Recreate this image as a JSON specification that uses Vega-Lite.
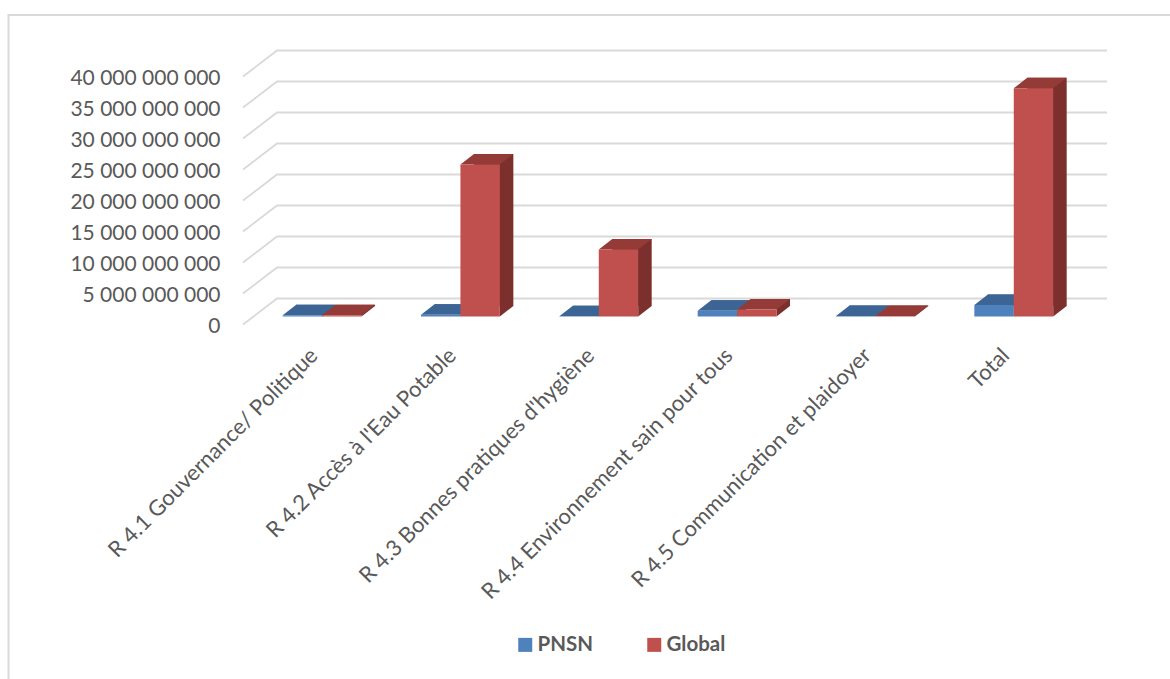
{
  "$schema": "https://vega.github.io/schema/vega-lite/v6.json",
  "width": 830,
  "height": 248,
  "autosize": "none",
  "padding": {"left": 243, "top": 76.5, "right": 97, "bottom": 354.5},
  "background": "#ffffff",
  "config": {"view": {"stroke": null}, "font": "Lato"},
  "layer": [
    {
      "data": {"values": [{"frame": "outer"}]},
      "mark": {"type": "point", "shape": "M-649.5,479.5 L-649.5,-185.5 L514,-185.5", "size": 4, "filled": false, "stroke": "#d9d9d9", "strokeWidth": 2, "opacity": 1},
      "encoding": {}
    },
    {
      "data": {"values": [
        {"tick": 0}, {"tick": 5000000000}, {"tick": 10000000000}, {"tick": 15000000000}, {"tick": 20000000000},
        {"tick": 25000000000}, {"tick": 30000000000}, {"tick": 35000000000}, {"tick": 40000000000}
      ]},
      "mark": {"type": "point", "shape": "M-415,0 L-381,-26 L449,-26", "size": 4, "filled": false, "stroke": "#d9d9d9", "strokeWidth": 1.8, "opacity": 1},
      "encoding": {
        "y": {
          "field": "tick", "type": "quantitative",
          "scale": {"domain": [0, 40000000000], "nice": false},
          "axis": {
            "title": null, "domain": false, "ticks": false, "grid": false, "labelOverlap": false, "tickCount": 9,
            "values": [0, 5000000000, 10000000000, 15000000000, 20000000000, 25000000000, 30000000000, 35000000000, 40000000000],
            "labelExpr": "replace(format(datum.value, ','), /,/g, ' ')",
            "labelFont": "Lato", "labelFontSize": 21, "labelColor": "#595959", "labelPadding": 23, "labelOffset": 2
          }
        }
      }
    },
    {
      "data": {"name": "bars"},
      "resolve": {"scale": {"xOffset": "independent"}},
      "layer": [
        {
          "mark": {"type": "bar", "yOffset": -18.5, "y2Offset": -18.5},
          "encoding": {
            "xOffset": {"field": "series", "type": "nominal", "sort": null, "scale": {"domain": ["PNSN", "Global"], "range": [13.5, 92.35]}},
            "color": {"condition": {"test": "datum.series === 'PNSN'", "value": "#2f4f78"}, "value": "#7c302e"}
          }
        },
        {
          "mark": {"type": "point", "shape": "M19.7,-8 L33.2,-18.5 L19.7,-18.5 Z", "size": 4, "filled": true, "opacity": 1, "strokeWidth": 0},
          "encoding": {
            "y": {"datum": 0, "type": "quantitative"},
            "y2": null,
            "color": {"condition": {"test": "datum.series === 'PNSN'", "value": "#2f4f78"}, "value": "#7c302e"}
          }
        },
        {
          "mark": {"type": "point", "shape": "M-19.7,-8 L19.7,-8 L33.2,-18.5 L-6.2,-18.5 Z", "size": 4, "filled": true, "opacity": 1, "strokeWidth": 0},
          "encoding": {
            "y2": null,
            "color": {"condition": {"test": "datum.series === 'PNSN'", "value": "#3c6595"}, "value": "#943a37"}
          }
        },
        {
          "mark": {"type": "bar", "yOffset": -8, "y2Offset": -8},
          "encoding": {
            "color": {
              "field": "series", "type": "nominal",
              "scale": {"domain": ["PNSN", "Global"], "range": ["#4f81bd", "#c0504d"]},
              "legend": {
                "title": null, "orient": "none", "legendX": 272, "legendY": 558, "direction": "horizontal",
                "symbolType": "square", "symbolSize": 196, "symbolStrokeWidth": 0, "symbolOpacity": 1,
                "labelFont": "Lato", "labelFontSize": 20.5, "labelFontWeight": "bold", "labelColor": "#595959",
                "columnPadding": 50, "labelOffset": 2, "padding": 0
              }
            }
          }
        }
      ],
      "encoding": {
        "x": {
          "field": "category", "type": "nominal", "sort": null,
          "scale": {"paddingInner": 0.43, "paddingOuter": 0.215, "align": 0.667},
          "axis": {
            "title": null, "domain": false, "ticks": false, "grid": false,
            "labelAngle": -45, "labelAlign": "right", "labelBaseline": "middle",
            "labelFont": "Lato", "labelFontSize": 22, "labelColor": "#595959",
            "labelPadding": 27, "labelOffset": -8, "labelLimit": 600
          }
        },
        "xOffset": {"field": "series", "type": "nominal", "sort": null, "scale": {"domain": ["PNSN", "Global"]}},
        "y": {"field": "value", "type": "quantitative", "scale": {"domain": [0, 40000000000], "nice": false}},
        "y2": {"datum": 0}
      }
    }
  ],
  "datasets": {
    "bars": [
      {"category": "R 4.1 Gouvernance/ Politique", "series": "PNSN", "value": 200000000},
      {"category": "R 4.1 Gouvernance/ Politique", "series": "Global", "value": 200000000},
      {"category": "R 4.2 Accès à l'Eau Potable", "series": "PNSN", "value": 300000000},
      {"category": "R 4.2 Accès à l'Eau Potable", "series": "Global", "value": 24500000000},
      {"category": "R 4.3 Bonnes pratiques d'hygiène", "series": "PNSN", "value": 50000000},
      {"category": "R 4.3 Bonnes pratiques d'hygiène", "series": "Global", "value": 10800000000},
      {"category": "R 4.4 Environnement sain pour tous", "series": "PNSN", "value": 920000000},
      {"category": "R 4.4 Environnement sain pour tous", "series": "Global", "value": 1130000000},
      {"category": "R 4.5 Communication et plaidoyer", "series": "PNSN", "value": 100000000},
      {"category": "R 4.5 Communication et plaidoyer", "series": "Global", "value": 100000000},
      {"category": "Total", "series": "PNSN", "value": 1850000000},
      {"category": "Total", "series": "Global", "value": 36800000000}
    ]
  }
}
